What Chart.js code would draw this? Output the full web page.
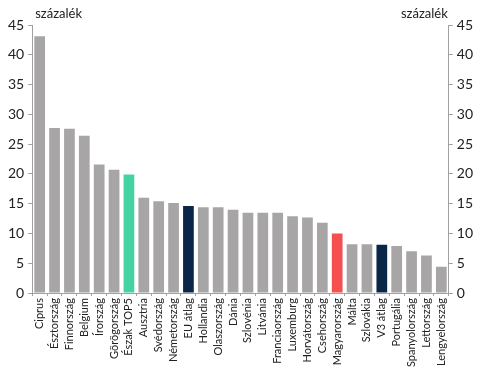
<!DOCTYPE html>
<html>
<head>
<meta charset="utf-8">
<script src="https://cdn.jsdelivr.net/npm/chart.js@4"></script>
<style>
  html, body { margin: 0; padding: 0; background: #fff; }
  #wrap { width: 480px; height: 375px; }
</style>
</head>
<body>
<div id="wrap"><canvas id="chart" width="480" height="375"></canvas></div>
<script>
// categories and values (percent)
const countries = [
  'Ciprus', 'Észtország', 'Finnország', 'Belgium', 'Írország', 'Görögország',
  'Észak TOP5', 'Ausztria', 'Svédország', 'Németország', 'EU átlag', 'Hollandia',
  'Olaszország', 'Dánia', 'Szlovénia', 'Litvánia', 'Franciaország', 'Luxemburg',
  'Horvátország', 'Csehország', 'Magyarország', 'Málta', 'Szlovákia', 'V3 átlag',
  'Portugália', 'Spanyolország', 'Lettország', 'Lengyelország'
];
const shares = [
  43.1, 27.7, 27.6, 26.4, 21.6, 20.7,
  19.9, 16.0, 15.4, 15.1, 14.6, 14.4,
  14.4, 14.0, 13.5, 13.5, 13.5, 12.9,
  12.7, 11.8, 10.0, 8.2, 8.2, 8.1,
  7.9, 7.0, 6.3, 4.4
];
const yTicks = [0, 5, 10, 15, 20, 25, 30, 35, 40, 45];
const unitLabel = 'százalék';

// highlight colours per category
const GREY = '#a7a5a6';
const highlight = {
  'Észak TOP5': '#45d3a1',
  'EU átlag': '#0b2747',
  'V3 átlag': '#0b2747',
  'Magyarország': '#f45050'
};
const barColors = countries.map(c => highlight[c] || GREY);

const FONT = 'Lato, "Open Sans", sans-serif';
const AXIS = '#a0a0a0';

// draws "százalék" above both y axes
const unitTitles = {
  id: 'unitTitles',
  afterDraw(chart) {
    const { ctx, chartArea } = chart;
    ctx.save();
    ctx.font = '13px ' + FONT;
    ctx.fillStyle = '#222';
    ctx.textBaseline = 'bottom';
    ctx.textAlign = 'left';
    ctx.fillText(unitLabel, chartArea.left + 3, chartArea.top - 5);
    ctx.textAlign = 'right';
    ctx.fillText(unitLabel, chartArea.right - 1, chartArea.top - 5);
    ctx.restore();
  }
};

const yAxis = (position) => ({
  position,
  min: 0,
  max: 45,
  afterBuildTicks: (axis) => { axis.ticks = yTicks.map(v => ({ value: v })); },
  grid: { drawOnChartArea: false, drawTicks: true, tickLength: 4, color: AXIS },
  border: { color: AXIS, width: 1 },
  ticks: { color: '#222', font: { family: FONT, size: 14 }, padding: 4 }
});

new Chart(document.getElementById('chart'), {
  type: 'bar',
  data: {
    labels: countries,
    datasets: [{
      data: shares,
      backgroundColor: barColors,
      barPercentage: 0.72,
      categoryPercentage: 1.0
    }]
  },
  options: {
    responsive: false,
    animation: false,
    layout: { padding: { top: 25, left: 4, right: 3, bottom: 6 } },
    plugins: { legend: { display: false }, tooltip: { enabled: false } },
    scales: {
      x: {
        grid: { drawOnChartArea: false, drawTicks: true, tickLength: 3, color: AXIS, offset: true },
        border: { color: AXIS, width: 1 },
        ticks: {
          color: '#222',
          font: { family: FONT, size: 11 },
          minRotation: 90,
          maxRotation: 90,
          autoSkip: false,
          padding: 2
        }
      },
      y: yAxis('left'),
      y2: yAxis('right')
    }
  },
  plugins: [unitTitles]
});
</script>
</body>
</html>
